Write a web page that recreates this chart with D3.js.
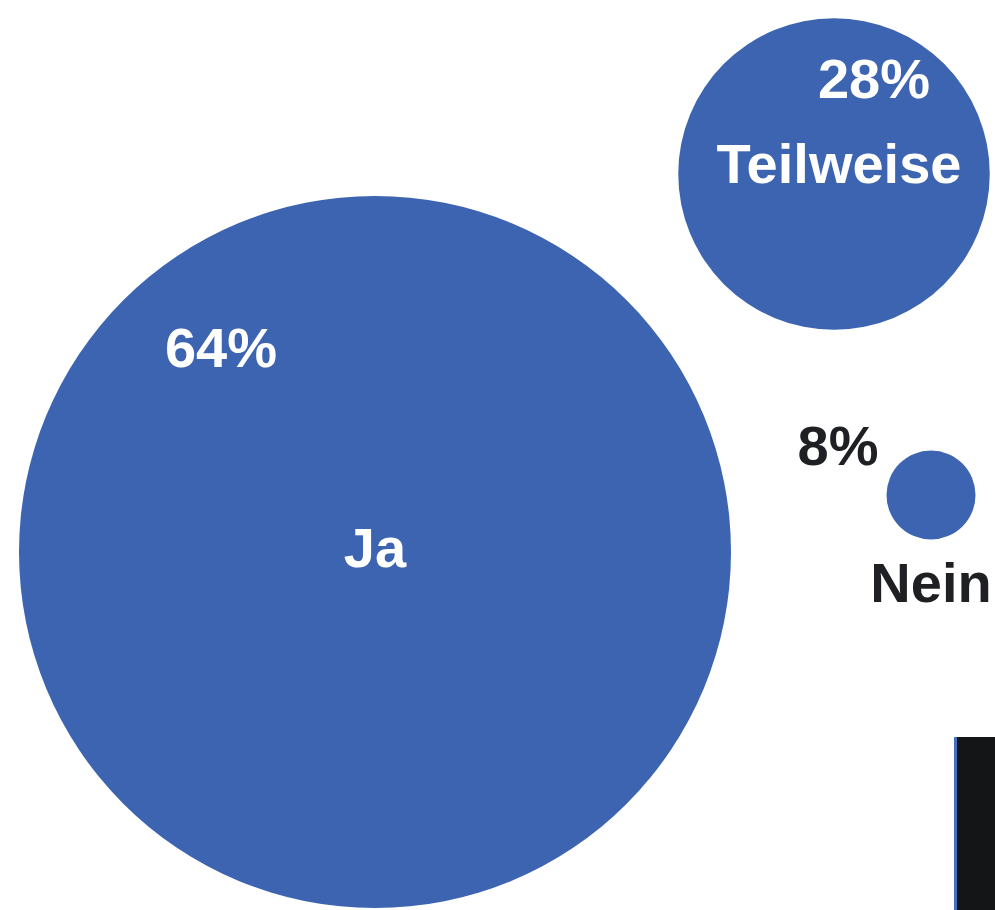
<!DOCTYPE html>
<html>
<head>
<meta charset="utf-8">
<script src="https://cdn.jsdelivr.net/npm/d3@7/dist/d3.min.js"></script>
<style>
  html, body { margin: 0; padding: 0; background: #ffffff; }
  svg { display: block; }
  text { font-family: "Helvetica Neue", "Liberation Sans", Arial, sans-serif; font-weight: 700; }
</style>
</head>
<body>
<svg id="chart" width="995" height="910"></svg>
<script>
// Survey answers and their shares (percent)
const categories = ["Ja", "Teilweise", "Nein"];
const values = [64, 28, 8];
const valueLabels = ["64%", "28%", "8%"];

const W = 995, H = 910;
const BLUE = "#3d64b0";
const DARK = "#1f2023";

const svg = d3.select("#chart");

// Radius grows linearly with the share
const r = d3.scaleLinear().domain([0, 64]).range([0, 356]);

// Placement of each bubble and offsets of its two labels
const layout = {
  "Ja":        { cx: 375, cy: 552, pct: { dx: -154, dy: -185, fill: "#ffffff" }, cat: { dx: 0, dy: 15,  fill: "#ffffff" } },
  "Teilweise": { cx: 834, cy: 174, pct: { dx: 40,   dy: -76,  fill: "#ffffff" }, cat: { dx: 5, dy: 9,   fill: "#ffffff" } },
  "Nein":      { cx: 931, cy: 495, pct: { dx: -93,  dy: -30,  fill: DARK },      cat: { dx: 0, dy: 107, fill: DARK } }
};

const data = categories.map((c, i) => Object.assign({ category: c, value: values[i], label: valueLabels[i] }, layout[c]));

const g = svg.selectAll("g.bubble").data(data).join("g").attr("class", "bubble");

g.append("circle")
  .attr("cx", d => d.cx)
  .attr("cy", d => d.cy)
  .attr("r", d => r(d.value))
  .attr("fill", BLUE);

g.append("text")
  .attr("x", d => d.cx + d.pct.dx)
  .attr("y", d => d.cy + d.pct.dy)
  .attr("text-anchor", "middle")
  .attr("font-size", 56)
  .attr("fill", d => d.pct.fill)
  .text(d => d.label);

g.append("text")
  .attr("x", d => d.cx + d.cat.dx)
  .attr("y", d => d.cy + d.cat.dy)
  .attr("text-anchor", "middle")
  .attr("font-size", 56)
  .attr("fill", d => d.cat.fill)
  .text(d => d.category);

// Dark panel edge in the lower right corner
svg.append("rect")
  .attr("x", 954).attr("y", 737)
  .attr("width", W - 954).attr("height", H - 737)
  .attr("fill", "#131517");
svg.append("rect")
  .attr("x", 954).attr("y", 737)
  .attr("width", 3).attr("height", H - 737)
  .attr("fill", "#4a6fc0");
</script>
</body>
</html>
